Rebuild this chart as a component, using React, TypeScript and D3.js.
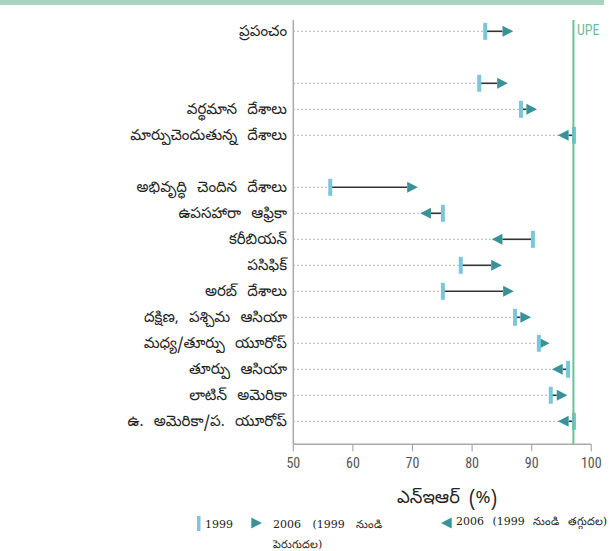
import React from "react";
import * as d3 from "d3";

const categories = [
  "ప్రపంచం",
  "",
  "వర్థమాన దేశాలు",
  "మార్పుచెందుతున్న దేశాలు",
  "అభివృద్ధి చెందిన దేశాలు",
  "ఉపసహారా ఆఫ్రికా",
  "కరీబియన్",
  "పసిఫిక్",
  "అరబ్ దేశాలు",
  "దక్షిణ, పశ్చిమ ఆసియా",
  "మధ్య/తూర్పు యూరోప్",
  "తూర్పు ఆసియా",
  "లాటిన్ అమెరికా",
  "ఉ. అమెరికా/ప. యూరోప్",
];
const groups = [0, 1, 1, 1, 2, 2, 2, 2, 2, 2, 2, 2, 2, 2];
const ner1999 = [82.2, 81.2, 88.2, 97.1, 56.2, 75.1, 90.2, 78.1, 75.1, 87.2, 91.2, 96.1, 93.2, 97.1];
const ner2006 = [86.9, 86.0, 90.9, 94.4, 70.9, 71.3, 83.3, 85.0, 87.0, 89.9, 93.0, 93.4, 96.0, 94.4];
const xTicks = [50, 60, 70, 80, 90, 100];
const upeValue = 97;
const upeLabel = "UPE";
const axisTitle = "ఎన్ఇఆర్ (%)";
const legend1999 = "1999";
const legendUp = ["2006 (1999 నుండి", "పెరుగుదల)"];
const legendDown = "2006 (1999 నుండి తగ్గుదల)";

const W = 610;
const H = 551;
const BAR = "#7cc6dc";
const TRI = "#3a9299";
const UPE = "#6dbf9a";
const AX = "#aaaaaa";
const LABEL_FONT = "'Noto Sans Telugu', 'Noto Sans', sans-serif";
const NUM_FONT = "'Liberation Sans Narrow', 'Roboto Condensed', Roboto, sans-serif";
const LEG_FONT = "'DejaVu Serif', 'Liberation Serif', serif";

export default function App() {
  const x = d3.scaleLinear().domain([50, 100]).range([293.3, 591.3]);
  const y = d3.scaleLinear().domain([0, 15]).range([31.3, 421.3]);
  const axisY = 444.3;
  const topY = 20;
  const triW = 10.7;
  const triH = 11;

  const rows = categories.map((c, i) => ({
    label: c,
    slot: i + groups[i],
    a: ner1999[i],
    b: ner2006[i],
  }));

  const tri = (tip: number, cy: number, dir: number) =>
    `M${tip},${cy} L${tip - dir * triW},${cy - triH / 2} L${tip - dir * triW},${cy + triH / 2} Z`;

  return (
    <div style={{ position: "absolute", left: 0, top: 0 }}>
      <svg width={W} height={H} style={{ display: "block" }}>
        <rect x={0} y={0} width={604} height={5} fill="#a9d4bf" />
        {rows.map((r, i) => {
          const cy = y(r.slot);
          const xa = x(r.a);
          const xb = x(r.b);
          const dir = r.b >= r.a ? 1 : -1;
          return (
            <g key={i}>
              <line x1={x(50)} x2={xa} y1={cy} y2={cy} stroke="#999" strokeWidth={1} strokeDasharray="1.5,2.5" />
              <line x1={xa} x2={xb - dir * triW} y1={cy} y2={cy} stroke="#333" strokeWidth={1.6} />
              <path d={tri(xb, cy, dir)} fill={TRI} />
              <rect x={xa - 2} y={cy - 8.5} width={4} height={17} fill={BAR} />
              <text x={287} y={cy + 5} textAnchor="end" fontFamily={LABEL_FONT} fontSize={15} wordSpacing={6} fill="#222">
                {r.label}
              </text>
            </g>
          );
        })}
        <line x1={x(upeValue)} x2={x(upeValue)} y1={topY} y2={axisY} stroke={UPE} strokeWidth={2} />
        <text x={x(upeValue) + 3.5} y={35} fontFamily={NUM_FONT} fontSize={14} fill={UPE}>
          {upeLabel}
        </text>
        <line x1={x(50)} x2={x(50)} y1={topY} y2={axisY} stroke={AX} strokeWidth={1.5} />
        <line x1={x(50)} x2={x(100)} y1={axisY} y2={axisY} stroke={AX} strokeWidth={1.5} />
        {xTicks.map((t) => (
          <g key={t}>
            <line x1={x(t)} x2={x(t)} y1={axisY} y2={axisY + 7} stroke={AX} strokeWidth={1.2} />
            <text x={x(t)} y={468} textAnchor="middle" fontFamily={NUM_FONT} fontSize={14} fill="#555">
              {t}
            </text>
          </g>
        ))}
        <text x={447} y={503} textAnchor="middle" fontFamily={LABEL_FONT} fontSize={18} wordSpacing={4} fill="#222">
          {axisTitle}
        </text>
        <rect x={197} y={516} width={3.5} height={15} fill={BAR} />
        <text x={205} y={528} fontFamily={LEG_FONT} fontSize={11} fill="#222">
          {legend1999}
        </text>
        <path d={tri(262, 523, 1)} fill={TRI} />
        <text x={273} y={528} fontFamily={LEG_FONT} fontSize={11} wordSpacing={8} fill="#222">
          {legendUp[0]}
        </text>
        <text x={273} y={548} fontFamily={LEG_FONT} fontSize={11} wordSpacing={8} fill="#222">
          {legendUp[1]}
        </text>
        <path d={tri(441, 523, -1)} fill={TRI} />
        <text x={456} y={525} fontFamily={LEG_FONT} fontSize={11} wordSpacing={5} fill="#222">
          {legendDown}
        </text>
      </svg>
    </div>
  );
}
